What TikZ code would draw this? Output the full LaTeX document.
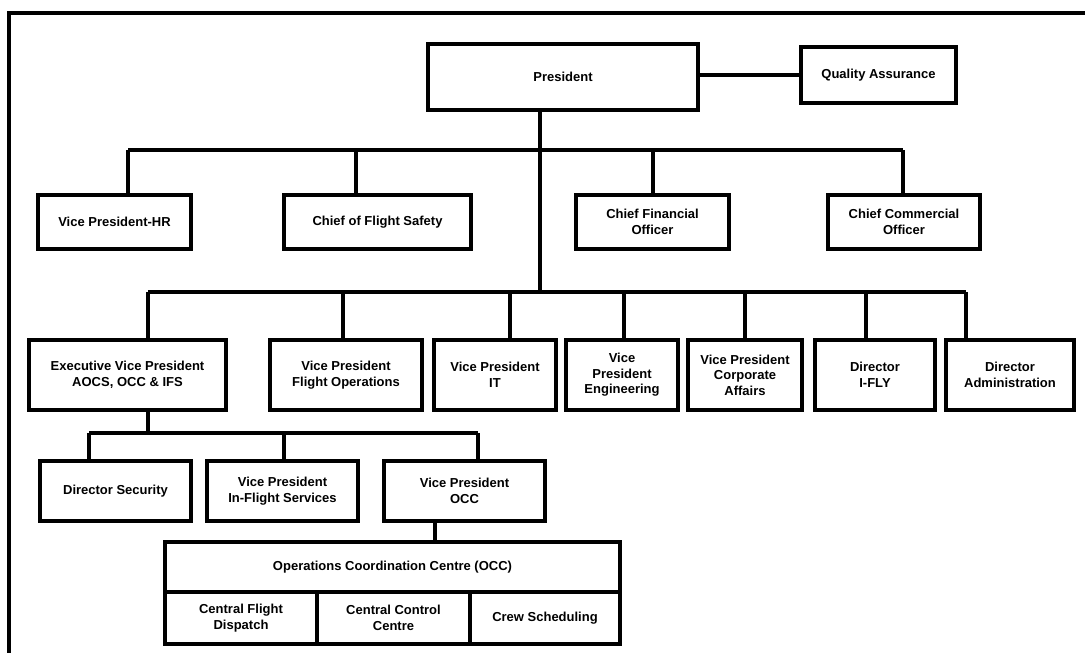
\documentclass[tikz,border=0pt]{standalone}
\usepackage{fontspec}
\setmainfont{Liberation Sans}

\begin{document}
\begin{tikzpicture}[x=1pt, y=-1pt,
    unit/.style={draw, line width=4.2pt, fill=white, inner sep=1pt, align=center,
                 font=\fontsize{13}{15.5}\selectfont\bfseries},
    link/.style={line width=3.2pt}]
                    \useasboundingbox (0,0) rectangle (1085,653);
                    \draw [line width=3.4pt] (9,653) -- (9,13) -- (1085,13);
                    % top
                    \node [unit, minimum width=270, minimum height=66] (pres) at (563,77) {President};
                    \node [unit, minimum width=155, minimum height=56] (qa) at (878.5,75) {Quality Assurance};
                    % first row
                    \node [unit, minimum width=153, minimum height=54] (vphr) at (114.5,222) {Vice President-HR};
                    \node [unit, minimum width=187, minimum height=54] (cofs) at (377.5,222) {Chief of Flight Safety};
                    \node [unit, minimum width=153, minimum height=54] (cfo) at (652.5,222) {Chief Financial\\Officer};
                    \node [unit, minimum width=152, minimum height=54] (cco) at (904,222) {Chief Commercial\\Officer};
                    % second row
                    \node [unit, minimum width=197, minimum height=70] (evp) at (127.5,375) {Executive Vice President\\AOCS, OCC \& IFS};
                    \node [unit, minimum width=152, minimum height=70] (vpfo) at (346,375) {Vice President\\Flight Operations};
                    \node [unit, minimum width=122, minimum height=70] (vpit) at (495,375) {Vice President\\IT};
                    \node [unit, minimum width=112, minimum height=70] (vpeng) at (622,375) {Vice\\President\\Engineering};
                    \node [unit, minimum width=114, minimum height=70] (vpca) at (745,375) {Vice President\\Corporate\\Affairs};
                    \node [unit, minimum width=120, minimum height=70] (ifly) at (875,375) {Director\\I-FLY};
                    \node [unit, minimum width=128, minimum height=70] (admin) at (1010,375) {Director\\Administration};
                    % third row
                    \node [unit, minimum width=151, minimum height=60] (dsec) at (115.5,491) {Director Security};
                    \node [unit, minimum width=151, minimum height=60] (vpifs) at (282.5,491) {Vice President\\In-Flight Services};
                    \node [unit, minimum width=161, minimum height=60] (vpocc) at (464.5,491) {Vice President\\OCC};
                    % occ
                    \node [unit, minimum width=455, minimum height=50] (occ) at (392.5,567) {Operations Coordination Centre (OCC)};
                    \node [unit, minimum width=152, minimum height=52] (cfd) at (241,618) {Central Flight\\Dispatch};
                    \node [unit, minimum width=153, minimum height=52] (ccc) at (393.5,618) {Central Control\\Centre};
                    \node [unit, minimum width=150, minimum height=52] (crew) at (545,618) {Crew Scheduling};
                    % buses
                    \coordinate (b1w) at (128,150);
                    \coordinate (b1e) at (903,150);
                    \coordinate (b2w) at (148,292);
                    \coordinate (b2e) at (966,292);
                    \coordinate (b3w) at (89,433);
                    \coordinate (b3e) at (478,433);
                    \draw [link] (qa.west -| pres.east) -- (qa.west);
                    \draw [link] (540,0 |- pres.south) -- (540,0 |- b2w);
                    \draw [link] (b1w) -- (b1e);
                    \draw [link] (b2w) -- (b2e);
                    \draw [link] (b3w) -- (b3e);
                    \foreach \x/\n in {128/vphr,356/cofs,653/cfo,903/cco}
                        \draw [link] (\x,0 |- b1w) -- (\x,0 |- \n.north);
                    \foreach \x/\n in {148/evp,343/vpfo,510/vpit,624/vpeng,745/vpca,866/ifly,966/admin}
                        \draw [link] (\x,0 |- b2w) -- (\x,0 |- \n.north);
                    \foreach \x/\n in {89/dsec,284/vpifs,478/vpocc}
                        \draw [link] (\x,0 |- b3w) -- (\x,0 |- \n.north);
                    \draw [link] (148,0 |- evp.south) -- (148,0 |- b3w);
                    \draw [link] (435,0 |- vpocc.south) -- (435,0 |- occ.north);
                \end{tikzpicture}
\end{document}
